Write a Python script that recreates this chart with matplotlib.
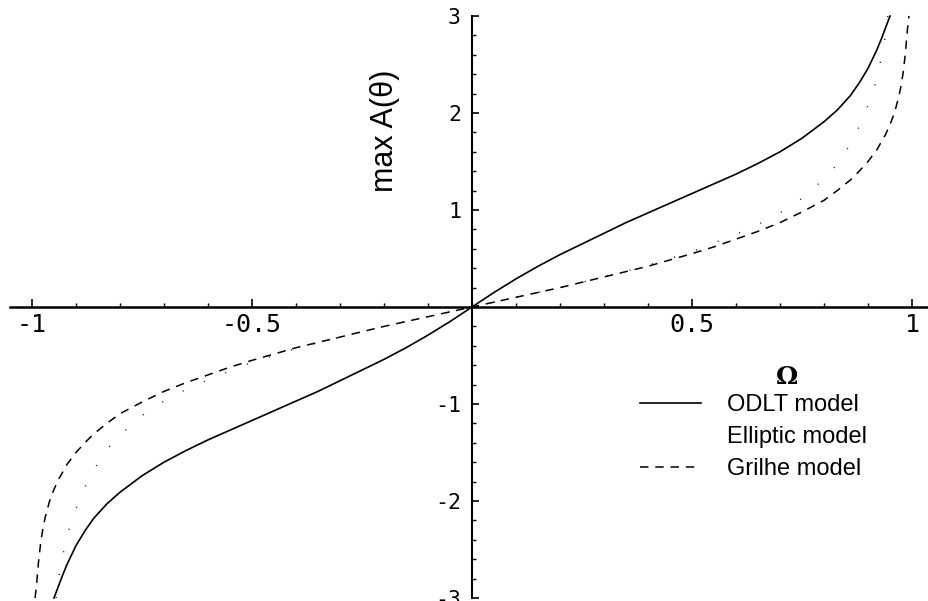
import matplotlib
matplotlib.use("Agg")
import matplotlib.pyplot as plt
from matplotlib.ticker import FixedLocator, MultipleLocator

# ── data (curves are odd, so one half is listed) ─────────────────────────────
omega_odlt_pos = [0.05, 0.1, 0.15, 0.2, 0.25, 0.3, 0.35, 0.4, 0.45, 0.5, 0.55,
                  0.6, 0.65, 0.7, 0.75, 0.8, 0.83, 0.86, 0.88, 0.9, 0.92, 0.93,
                  0.94, 0.95]
a_odlt_pos = [0.15, 0.29, 0.42, 0.54, 0.65, 0.76, 0.87, 0.97, 1.07, 1.17, 1.27,
              1.37, 1.48, 1.60, 1.74, 1.91, 2.03, 2.18, 2.31, 2.46, 2.65, 2.76,
              2.88, 3.0]

omega_ell_pos = [0.1, 0.2, 0.3, 0.4, 0.5, 0.6, 0.65, 0.7, 0.75, 0.8, 0.83,
                 0.86, 0.88, 0.9, 0.91, 0.92, 0.93, 0.94, 0.945]
a_ell_pos = [0.1, 0.2, 0.31, 0.43, 0.57, 0.75, 0.85, 0.97, 1.12, 1.32, 1.47,
             1.68, 1.86, 2.08, 2.2, 2.36, 2.56, 2.8, 3.0]

omega_gr_pos = [0.1, 0.2, 0.3, 0.4, 0.5, 0.55, 0.6, 0.65, 0.7, 0.75, 0.8, 0.83,
                0.86, 0.88, 0.9, 0.92, 0.94, 0.95, 0.96, 0.97, 0.975, 0.98,
                0.985, 0.99, 0.993]
a_gr_pos = [0.1, 0.2, 0.31, 0.42, 0.55, 0.62, 0.7, 0.78, 0.87, 0.98, 1.1, 1.2,
            1.31, 1.4, 1.5, 1.62, 1.78, 1.88, 2.0, 2.17, 2.28, 2.42, 2.62, 2.88,
            3.0]

x_ticks = [-1, -0.5, 0.5, 1]
x_labels = ["-1", "-0.5", "0.5", "1"]
y_ticks = [-3, -2, -1, 1, 2, 3]
y_labels = ["-3", "-2", "-1", "1", "2", "3"]


def odd(xs, ys):
    return ([-v for v in reversed(xs)] + [0.0] + list(xs),
            [-v for v in reversed(ys)] + [0.0] + list(ys))


SANS = "Liberation Sans"
MONO = "DejaVu Sans Mono"

fig = plt.figure(figsize=(9.29, 6.01), dpi=100, facecolor="white")
ax = fig.add_axes([0, 0, 1, 1])

ax.plot(*odd(omega_odlt_pos, a_odlt_pos), color="black", lw=1.2,
        label="ODLT model")
ax.plot(*odd(omega_ell_pos, a_ell_pos), color="black", lw=1.0,
        ls=(0, (0.7, 16)), label="Elliptic model")
ax.plot(*odd(omega_gr_pos, a_gr_pos), color="black", lw=1.1,
        ls=(0, (5.5, 4.5)), label="Grilhe model")

ax.set_xlim(-1.0727, 1.0386)
ax.set_ylim(-3.031, 3.165)

# ── Mathematica-style axes through the origin ────────────────────────────────
for side in ("top", "right"):
    ax.spines[side].set_visible(False)
ax.spines["bottom"].set_position(("data", 0))
ax.spines["left"].set_position(("data", 0))
ax.spines["bottom"].set_bounds(-1.05, 1.04)
ax.spines["left"].set_bounds(-3, 3)
ax.spines["bottom"].set_linewidth(1.8)
ax.spines["left"].set_linewidth(1.5)

ax.xaxis.set_major_locator(FixedLocator(x_ticks))
ax.set_xticklabels(x_labels, fontfamily=MONO, fontsize=18)
ax.xaxis.set_minor_locator(MultipleLocator(0.1))
ax.yaxis.set_major_locator(FixedLocator(y_ticks))
ax.set_yticklabels(y_labels, fontfamily=MONO, fontsize=15.5)
ax.yaxis.set_minor_locator(MultipleLocator(0.2))

ax.tick_params(axis="x", which="major", direction="in", length=6, width=1.2, pad=4)
ax.tick_params(axis="x", which="minor", direction="in", length=3, width=1.0)
ax.tick_params(axis="y", which="major", direction="in", length=5, width=1.2, pad=8)
ax.tick_params(axis="y", which="minor", direction="in", length=3, width=1.0)

ax.text(-0.198, 1.82, "max A(\u03b8)", rotation=90, ha="center", va="center",
        fontsize=22, fontfamily=SANS)
ax.text(0.716, -0.72, "\u03a9", ha="center", va="center", fontsize=18,
        fontweight="bold", fontfamily="DejaVu Serif")

leg = ax.legend(loc="upper left", bbox_to_anchor=(640 / 929, 1 - 394 / 601),
                bbox_transform=fig.transFigure, frameon=False, borderpad=0,
                borderaxespad=0, handlelength=2.6, handletextpad=1.1,
                labelspacing=0.42, prop={"family": SANS, "size": 17})
leg.get_lines()[1].set_visible(False)

fig.savefig("out.png", dpi=100, facecolor="white")
